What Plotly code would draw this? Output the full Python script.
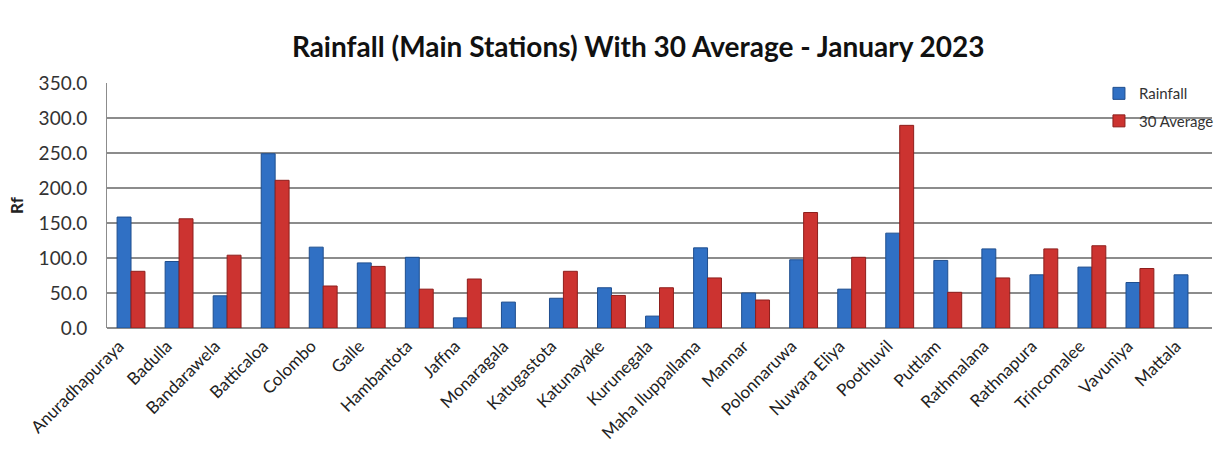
import plotly.graph_objects as go

stations = ["Anuradhapuraya", "Badulla", "Bandarawela", "Batticaloa", "Colombo", "Galle",
            "Hambantota", "Jaffna", "Monaragala", "Katugastota", "Katunayake", "Kurunegala",
            "Maha Iluppallama", "Mannar", "Polonnaruwa", "Nuwara Eliya", "Poothuvil", "Puttlam",
            "Rathmalana", "Rathnapura", "Trincomalee", "Vavuniya", "Mattala"]
rainfall = [158.5, 95.0, 46.0, 249.0, 115.5, 93.0, 101.0, 14.5, 37.0, 42.5, 57.5, 17.0,
            114.5, 50.0, 97.5, 55.5, 135.5, 96.5, 113.0, 76.0, 87.0, 65.0, 76.0]
average30 = [81.0, 156.0, 104.0, 211.0, 60.0, 88.0, 55.5, 70.0, None, 81.0, 46.5, 57.5,
             71.5, 40.0, 165.0, 101.0, 289.5, 51.0, 71.5, 113.0, 117.5, 85.0, None]

FONT = "Lato"

fig = go.Figure()
fig.add_trace(go.Bar(name="Rainfall", x=stations, y=rainfall, legendgroup="a",
                     marker=dict(color="#3070C4", line=dict(color="#1F4E8E", width=1))))
fig.add_trace(go.Bar(name="30 Average", x=stations, y=average30, legendgroup="b",
                     marker=dict(color="#CC3330", line=dict(color="#8E1F1C", width=1))))

fig.update_layout(
    width=1225, height=470,
    margin=dict(l=107, r=13, t=83, b=142, autoexpand=False),
    paper_bgcolor="white", plot_bgcolor="white",
    barmode="group", bargap=0.42, bargroupgap=0.0,
    title=dict(text="<b>Rainfall (Main Stations) With 30 Average - January 2023</b>",
               x=0.521, xanchor="center", y=0.9, yanchor="middle",
               font=dict(family=FONT, size=28, color="#111111")),
    font=dict(family=FONT, color="#222222"),
    legend=dict(x=0.8977, xanchor="left", y=1.024, yanchor="top",
                font=dict(size=15, color="#333333"), bgcolor="rgba(0,0,0,0)",
                tracegroupgap=5, itemwidth=30),
    showlegend=True,
)
fig.update_xaxes(tickangle=-45, tickfont=dict(size=17, color="#222222"),
                 ticklabelshift=-12, ticklabelstandoff=4,
                 showgrid=False, showline=False, ticks="")
fig.update_yaxes(range=[0, 350], dtick=50, tickformat=".1f",
                 tickfont=dict(size=19, color="#333333"), ticklabelstandoff=15,
                 showgrid=True, gridcolor="#8C8C8C", gridwidth=1.5,
                 showline=True, linecolor="#8C8C8C", linewidth=1,
                 zeroline=True, zerolinecolor="#8C8C8C", zerolinewidth=1.5,
                 title=dict(text="<b>Rf</b>", font=dict(size=17, color="#222222"), standoff=10))

fig.write_html("out.html")
